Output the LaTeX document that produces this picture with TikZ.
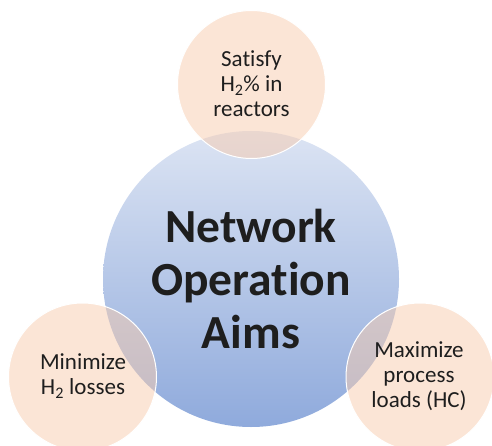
\documentclass[tikz,border=0pt]{standalone}
\usepackage{fontspec}
\setmainfont[Ligatures=NoCommon]{Carlito}
\definecolor{bigtop}{RGB}{220,228,243}
\definecolor{bigbot}{RGB}{143,170,220}
\definecolor{peach}{RGB}{248,203,173}
\definecolor{txt}{RGB}{30,30,30}
\begin{document}
\begin{tikzpicture}[x=1pt,y=1pt,
  aim/.style={circle,minimum size=148pt,inner sep=0pt,fill=peach,fill opacity=0.5,draw=white,line width=1pt,text opacity=1},
  aimtext/.style={align=center,text=txt,font=\fontsize{23}{25}\selectfont},
  maintext/.style={align=center,text=txt,font=\bfseries\fontsize{47.5}{53}\selectfont}]
\useasboundingbox (0,0) rectangle (492,445);
\shade[top color=bigtop,bottom color=bigbot] (251,166) circle (148);
\coordinate (c) at (251,166);
\node[aim] (top) at (251.5,360.5) {};
\node[aim] (left) at (82.5,68) {};
\node[aim] (right) at (420,68) {};
\node[maintext] (main) at (c) {Network\\Operation\\Aims};
\node[aimtext] (ttop) at (251.5,361) {Satisfy\\H\textsubscript{2}\% in\\reactors};
\node[aimtext] (tleft) at (83,69) {Minimize\\H\textsubscript{2} losses};
\node[aimtext] (tright) at (419,69) {Maximize\\process\\loads (HC)};
\end{tikzpicture}
\end{document}
